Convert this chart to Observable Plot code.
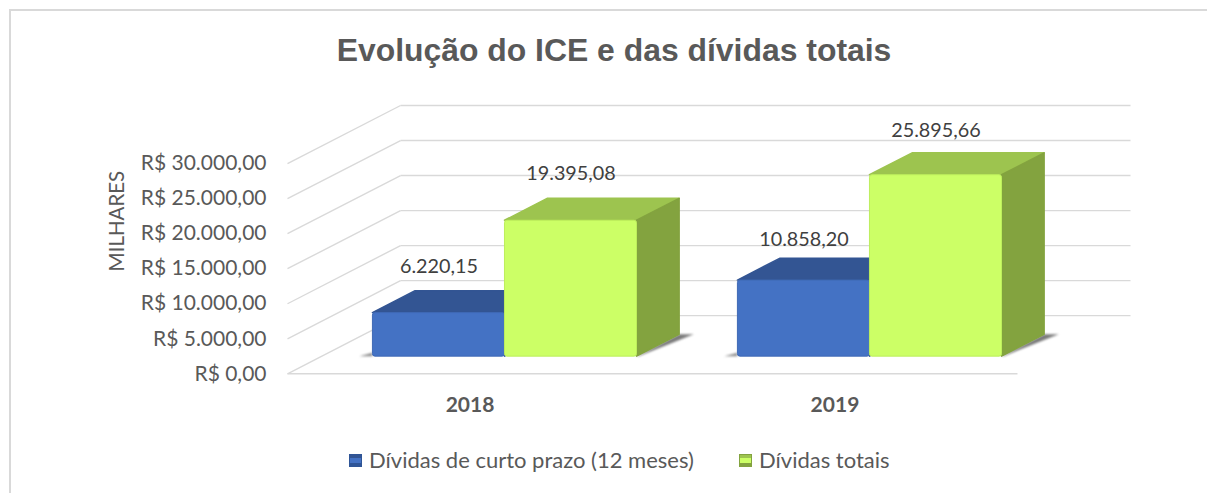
<!DOCTYPE html>
<html lang="pt-BR">
<head>
<meta charset="utf-8">
<script src="https://cdn.jsdelivr.net/npm/d3@7"></script>
<script src="https://cdn.jsdelivr.net/npm/@observablehq/plot@0.6"></script>
<style>
  html, body { margin: 0; padding: 0; background: #fff; overflow: hidden; }
  #page { position: relative; width: 1207px; height: 493px; overflow: hidden; }
  #frame { position: absolute; left: 9px; top: 9px; right: -10px; bottom: -10px;
           border-top: 2.5px solid #d9d9d9; border-left: 2.5px solid #d9d9d9; pointer-events: none; }
  #title { height: 90px; box-sizing: border-box; padding: 10px 0 0 21px; text-align: center;
           font: bold 31.9px/80px "Liberation Sans", Arial, sans-serif; color: #595959; }
  #chart svg { display: block; }
  #legend { position: relative; height: 63px; font: 22px/60px Lato, sans-serif; color: #595959; }
  .entry { position: absolute; top: 0; white-space: nowrap; }
  .swatch { position: absolute; top: 24px; left: 0; width: 13px; height: 13px; box-sizing: border-box; }
</style>
</head>
<body>
<div id="page">
  <div id="frame"></div>
  <div id="title">Evolução do ICE e das dívidas totais</div>
  <div id="chart"></div>
  <div id="legend"></div>
</div>
<script>
const categories = ["2018", "2019"];
const seriesNames = ["Dívidas de curto prazo (12 meses)", "Dívidas totais"];
const curtoPrazo = [6220.15, 10858.20];
const dividasTotais = [19395.08, 25895.66];
const yTicks = [0, 5000, 10000, 15000, 20000, 25000, 30000];

const ptBR = d3.formatLocale({decimal: ",", thousands: ".", grouping: [3], currency: ["R$ ", ""]});
const money = ptBR.format("$,.2f");
const number = ptBR.format(",.2f");

// Oblique projection of the 3D chart, in scale units
const depthX = 0.3097;      // category units per full depth
const depthY = 8300;        // value units per full depth
const yMax = 38300;
const zFront = 0.295, zBack = 0.672;
const nudge = 0.0045;
const barW = 0.3618;
const ink = "#595959";
const font = "Lato, sans-serif";

const looks = [
  {front: "#4472c4", top: "#335593", side: "#2f5597", edge: "#3f69b5", values: curtoPrazo, left: -barW, right: 0},
  {front: "#ccff66", top: "#9dc44f", side: "#83a33f", edge: "#bdee5c", values: dividasTotais, left: 0, right: barW}
];

const px = (c, off, z) => c + 0.5 + off + nudge + z * depthX;
const py = (v, z) => v + z * depthY;
const zs = [zFront, zBack];

const marks = [];

// Gridlines: side wall, back wall, floor front edge
const ticksRows = yTicks.map((t) => ({t}));
marks.push(
  Plot.link(ticksRows, {x1: () => 0, y1: (d) => d.t, x2: () => depthX, y2: (d) => d.t + depthY, stroke: "#d9d9d9", strokeWidth: 1.4}),
  Plot.link(ticksRows, {x1: () => depthX, y1: (d) => d.t + depthY, x2: () => 2 + depthX, y2: (d) => d.t + depthY, stroke: "#d9d9d9", strokeWidth: 1.4}),
  Plot.link([0], {x1: () => 0, y1: () => 0, x2: () => 2, y2: () => 0, stroke: "#d9d9d9", strokeWidth: 1.4})
);

// Soft floor shadows
const shadowRight = categories.flatMap((name, c) => zs.map((z) => ({
  c, y: py(0, z), x1: px(c, barW, z), x2: px(c, barW, z) + (z === zBack ? 0.04 : 0.006)
})));
const shadowLeft = categories.flatMap((name, c) => zs.map((z, i) => ({
  c, y: py(0, zFront + i * 0.06), x1: px(c, -barW, zFront) - (i ? 0 : 0.036), x2: px(c, -barW, zFront)
})));
marks.push(
  Plot.areaX(shadowRight, {y: "y", x1: "x1", x2: "x2", z: "c", fill: "#7a7a7a", imageFilter: "blur(1.2px)"}),
  Plot.areaX(shadowLeft, {y: "y", x1: "x1", x2: "x2", z: "c", fill: "#8a8a8a", imageFilter: "blur(1px)"})
);

// Bars: top, side and front face of each
for (const look of looks) {
  const tops = categories.flatMap((name, c) => zs.map((z) => ({
    c, y: py(look.values[c], z), x1: px(c, look.left, z), x2: px(c, look.right, z)
  })));
  const sides = categories.flatMap((name, c) => zs.map((z) => ({
    c, x: px(c, look.right, z), y1: py(0, z), y2: py(look.values[c], z)
  })));
  const fronts = categories.map((name, c) => ({
    x1: px(c, look.left, zFront), x2: px(c, look.right, zFront), y1: py(0, zFront), y2: py(look.values[c], zFront)
  }));
  marks.push(
    Plot.areaX(tops, {y: "y", x1: "x1", x2: "x2", z: "c", fill: look.top, stroke: look.top, strokeWidth: 1.5, strokeLinejoin: "round"}),
    Plot.areaY(sides, {x: "x", y1: "y1", y2: "y2", z: "c", fill: look.side, stroke: look.side, strokeWidth: 1.5, strokeLinejoin: "round"}),
    Plot.rect(fronts, {x1: "x1", x2: "x2", y1: "y1", y2: "y2", fill: look.front, stroke: look.edge, strokeWidth: 1, rx: 2.5})
  );
}

// Value labels
const labelLift = [[46.5, 40.5], [47, 45]];
looks.forEach((look, s) => {
  categories.forEach((name, c) => {
    marks.push(Plot.text([look.values[c]], {
      x: () => px(c, (look.left + look.right) / 2, zFront),
      y: (v) => py(v, zFront),
      text: (v) => number(v),
      dy: -labelLift[s][c],
      fontFamily: font, fontSize: 19.8, fill: "#404040"
    }));
  });
});

// Axes
marks.push(
  Plot.axisY({ticks: yTicks, tickFormat: money, tickSize: 0, tickPadding: 21, label: null,
    fontFamily: font, fontSize: 21, color: ink}),
  Plot.axisX({ticks: categories.map((name, c) => c + 0.5), tickFormat: (d) => categories[Math.floor(d)],
    tickSize: 0, tickPadding: 23, label: null, fontFamily: font, fontSize: 21, fontWeight: "bold", color: ink}),
  Plot.text(["MILHARES"], {frameAnchor: "left", dx: -170, y: () => 21800, rotate: -90, textAnchor: "middle",
    fontFamily: font, fontSize: 20.5, fill: ink})
);

const chart = Plot.plot({
  width: 1207,
  height: 340,
  marginLeft: 287,
  marginRight: 77,
  marginTop: 15,
  marginBottom: 56.7,
  x: {domain: [0, 2 + depthX]},
  y: {domain: [0, yMax]},
  style: {background: "transparent", overflow: "visible"},
  marks
});
document.getElementById("chart").append(chart);

// Legend
const legend = document.getElementById("legend");
const legendLeft = [349, 739];
seriesNames.forEach((name, i) => {
  const entry = document.createElement("div");
  entry.className = "entry";
  entry.style.left = legendLeft[i] + "px";
  entry.style.paddingLeft = "20px";
  entry.textContent = name;
  const sw = document.createElement("span");
  sw.className = "swatch";
  sw.style.background = `linear-gradient(180deg, ${looks[i].top} 0 25%, ${looks[i].front} 25% 75%, ${looks[i].side} 75%)`;
  sw.style.border = `1.5px solid ${looks[i].side}`;
  entry.append(sw);
  legend.append(entry);
});
</script>
</body>
</html>
